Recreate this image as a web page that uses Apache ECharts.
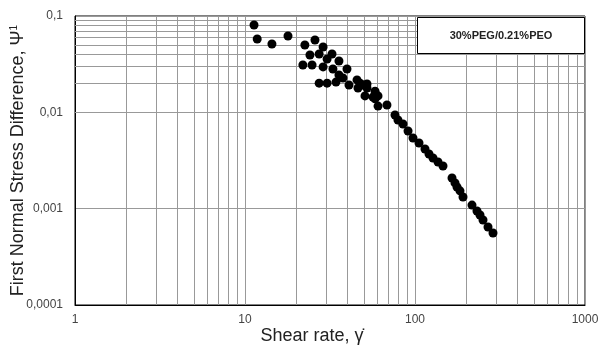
<!DOCTYPE html>
<html><head><meta charset="utf-8">
<script src="https://cdn.jsdelivr.net/npm/echarts@6/dist/echarts.min.js"></script>
<style>html,body{margin:0;padding:0;background:#fff}#c{width:602px;height:345px}</style>
</head><body><div id="c"></div>
<script>
const shearRate = [11.3,11.8,14.4,17.9,22.5,25.8,28.8,24.1,27.3,32.5,30.4,35.7,21.9,24.8,28.8,32.9,39.8,35.7,37.7,27.3,30.4,34.3,40.9,45.6,47.5,49.5,52.2,46.2,52.2,58.2,50.8,56.6,60.6,58.2,60.6,68.4,76.3,79.4,85.0,91.0,97.3,105.6,114.5,120.9,127.6,136.6,146.1,165.1,171.9,176.6,183.9,191.6,216.4,231.5,241.2,251.2,268.8,287.6];
const psi1 = [0.0806,0.0577,0.0512,0.0620,0.0500,0.0563,0.0477,0.0394,0.0403,0.0403,0.0358,0.0341,0.0310,0.0310,0.0296,0.0282,0.0282,0.0244,0.0227,0.0201,0.0201,0.0206,0.0192,0.0217,0.0201,0.0192,0.0197,0.0179,0.0179,0.0166,0.0148,0.0144,0.0148,0.0138,0.0116,0.0119,0.00938,0.00832,0.00756,0.00640,0.00541,0.00480,0.00416,0.00369,0.00336,0.00305,0.00277,0.00208,0.00185,0.00168,0.00153,0.00132,0.00109,0.000946,0.000859,0.000762,0.000645,0.000559];
const xTickLabels = {1:'1',10:'10',100:'100',1000:'1000'};
const yTickLabels = {0.1:'0,1',0.01:'0,01',0.001:'0,001',0.0001:'0,0001'};
const seriesName = '30%PEG/0.21%PEO';

const minorX = [], minorY = [];
[1,10,100].forEach(d=>{for(let k=2;k<=9;k++) minorX.push({xAxis:+(k*d).toPrecision(3)});});
[0.0001,0.001,0.01].forEach(d=>{for(let k=2;k<=9;k++) minorY.push({yAxis:+(k*d).toPrecision(3)});});

const chart = echarts.init(document.getElementById('c'), null, {renderer:'canvas'});
const lbl = (map)=> (v)=>{ for (const k in map){ if (Math.abs(Math.log10(v)-Math.log10(+k))<1e-6) return map[k]; } return ''; };
chart.setOption({
  backgroundColor:'#fff',
  animation:false,
  grid:{left:75,right:17,top:16,bottom:40,containLabel:false,outerBoundsMode:'none',show:true,borderColor:'#000',borderWidth:1,backgroundColor:'transparent'},
  xAxis:{type:'log',logBase:10,min:1,max:1000,
    name:'Shear rate, γ̇',nameLocation:'middle',nameGap:22,nameMoveOverlap:false,
    nameTextStyle:{fontFamily:'Liberation Sans',fontSize:18,color:'#222',padding:[0,36,0,0]},
    axisLine:{show:true,lineStyle:{color:'#000'}},
    axisTick:{show:false},
    axisLabel:{formatter:lbl(xTickLabels),fontFamily:'Liberation Sans',fontSize:12,color:'#444',margin:9},
    splitLine:{show:true,lineStyle:{color:'#999',width:1}}},
  yAxis:{type:'log',logBase:10,min:0.0001,max:0.1,
    name:'First Normal Stress Difference, Ψ{s|1}',nameLocation:'middle',nameGap:47,nameMoveOverlap:false,
    nameTextStyle:{fontFamily:'Liberation Sans',fontSize:18,color:'#222',rich:{s:{fontSize:10,color:'#222',padding:[0,0,9,0]}}},
    axisLine:{show:true,lineStyle:{color:'#000'}},
    axisTick:{show:false},
    axisLabel:{formatter:lbl(yTickLabels),fontFamily:'Liberation Sans',fontSize:12,color:'#444',margin:12},
    splitLine:{show:true,lineStyle:{color:'#999',width:1}}},
  series:[
    {type:'line',data:[],z:1,silent:true,
     markLine:{silent:true,symbol:'none',label:{show:false},animation:false,
       lineStyle:{color:'#999',type:'solid',width:1},data:minorX.concat(minorY)}},
    {name:seriesName,type:'scatter',z:5,symbol:'circle',symbolSize:9,
     itemStyle:{color:'#000',opacity:1},
     data:shearRate.map((x,i)=>[x,psi1[i]])}
  ],
  graphic:[{type:'group',right:17,top:17,z:100,zlevel:1,children:[
    {type:'rect',z:100,zlevel:1,shape:{x:0,y:0,width:167,height:36},style:{fill:'#ffffff',stroke:'#000',lineWidth:1}},
    {type:'text',z:101,zlevel:1,x:83.5,y:18,style:{text:seriesName,fill:'#222',font:'bold 11px "Liberation Sans"',align:'center',verticalAlign:'middle'}}
  ]}]
});
</script></body></html>
